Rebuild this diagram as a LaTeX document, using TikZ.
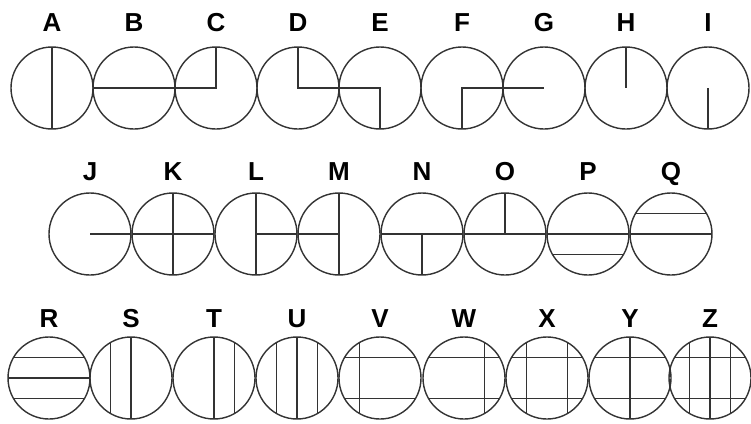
\documentclass[tikz,border=0pt]{standalone}
\usepackage{fontspec}
\setmainfont{Liberation Sans}
\begin{document}
\begin{tikzpicture}[x=1pt,y=-1pt,
  ring/.style={circle,draw=black!80,line width=1.4pt,minimum size=82pt,inner sep=0pt,outer sep=0pt},
  lbl/.style={font=\fontsize{26}{26}\selectfont\bfseries,text height=18.5pt,text depth=0pt,inner sep=0pt},
  bar/.style={draw=black!80,line width=1.4pt}]
\useasboundingbox[fill=white] (0,0) rectangle (751,423);
% row 1
\foreach \n/\x in {A/52,B/134,C/216,D/298,E/380,F/462,G/544,H/626,I/708}{
  \node[ring] (\n) at (\x,88) {};
  \node[lbl] (l\n) at (\x,22) {\n};
}
% row 2
\foreach \n/\x in {J/90,K/173,L/256,M/339,N/422,O/505,P/588,Q/671}{
  \node[ring] (\n) at (\x,234) {};
  \node[lbl] (l\n) at (\x,171) {\n};
}
% row 3
\foreach \n/\x in {R/49,S/131,T/214,U/297,V/380,W/464,X/547,Y/630,Z/710}{
  \node[ring] (\n) at (\x,378) {};
  \node[lbl] (l\n) at (\x,318) {\n};
}
% strokes
\path[bar] (A.north) -- (A.south);
\path[bar] (B.west) -- (B.east);
\path[bar] (C.west) -- (C.center) -- (C.north);
\path[bar] (D.north) -- (D.center) -- (D.east);
\path[bar] (E.west) -- (E.center) -- (E.south);
\path[bar] (F.south) -- (F.center) -- (F.east);
\path[bar] (G.west) -- (G.center);
\path[bar] (H.north) -- (H.center);
\path[bar] (I.center) -- (I.south);
\path[bar] (J.center) -- (J.east);
\path[bar] (K.north) -- (K.south) (K.west) -- (K.east);
\path[bar] (L.north) -- (L.south) (L.center) -- (L.east);
\path[bar] (M.north) -- (M.south) (M.west) -- (M.center);
\path[bar] (N.west) -- (N.east) (N.center) -- (N.south);
\path[bar] (O.west) -- (O.east) (O.center) -- (O.north);
\path[bar] (P.west) -- (P.east) (P.-30) -- (P.210);
\path[bar] (Q.west) -- (Q.east) (Q.30) -- (Q.150);
\path[bar] (R.west) -- (R.east) (R.30) -- (R.150) (R.-30) -- (R.210);
\path[bar] (S.north) -- (S.south) (S.120) -- (S.240);
\path[bar] (T.north) -- (T.south) (T.60) -- (T.300);
\path[bar] (U.north) -- (U.south) (U.120) -- (U.240) (U.60) -- (U.300);
\path[bar] (V.30) -- (V.150) (V.210) -- (V.330) (V.120) -- (V.240);
\path[bar] (W.30) -- (W.150) (W.210) -- (W.330) (W.60) -- (W.300);
\path[bar] (X.30) -- (X.150) (X.210) -- (X.330) (X.120) -- (X.240) (X.60) -- (X.300);
\path[bar] (Y.30) -- (Y.150) (Y.210) -- (Y.330) (Y.north) -- (Y.south);
\path[bar] (Z.30) -- (Z.150) (Z.210) -- (Z.330) (Z.north) -- (Z.south) (Z.120) -- (Z.240) (Z.60) -- (Z.300);
\end{tikzpicture}
\end{document}
